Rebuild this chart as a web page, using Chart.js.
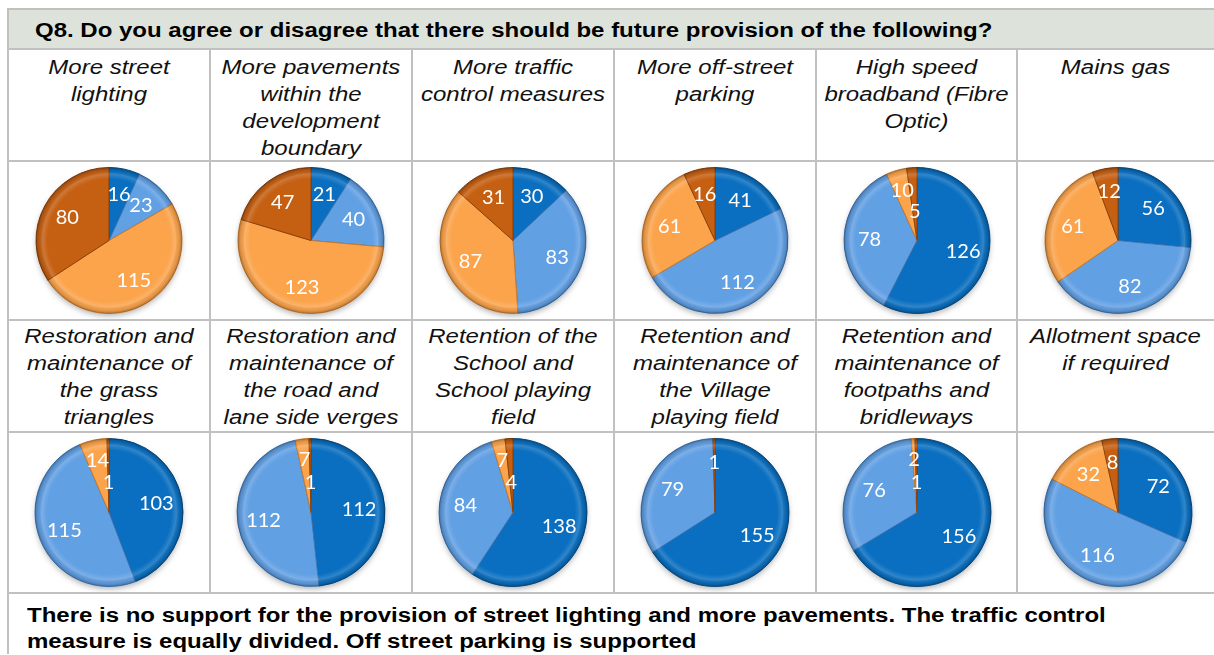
<!DOCTYPE html>
<html>
<head>
<meta charset="utf-8">
<title>Q8 future provision</title>
<script src="https://cdn.jsdelivr.net/npm/chart.js@4/dist/chart.umd.min.js"></script>
<style>
  body { margin: 0; background: #fff; font-family: Arial, "Liberation Sans", sans-serif; }
  #sheet { position: absolute; left: 0; top: 0; width: 1214px; height: 655px; overflow: hidden; }
  .line { position: absolute; background: #c0c0c0; }
  .hdr { position: absolute; left: 8px; top: 9px; width: 1206px; height: 40px; background: #dde3da; }
  .hdr span { position: absolute; left: 27px; top: 10px; font-weight: bold; font-size: 20px; color: #000;
              white-space: nowrap; transform: scaleX(1.2); transform-origin: left center; }
  .title { position: absolute; text-align: center; font-style: italic; font-size: 20px; line-height: 27px; color: #111;
           white-space: nowrap; transform: scaleX(1.2); transform-origin: center top; }
  .pie { position: absolute; }
  .note { position: absolute; left: 27px; top: 602px; font-weight: bold; font-size: 20px; line-height: 26px; color: #000;
          white-space: nowrap; transform: scaleX(1.2); transform-origin: left top; }
</style>
</head>
<body>
<div id="sheet">
  <div class="hdr"><span id="question"></span></div>
  <div class="note" id="note"></div>
</div>
<script>
// === Dados ===
const question = "Q8. Do you agree or disagree that there should be future provision of the following?";
const answers = ["Strongly agree", "Agree", "Disagree", "Strongly disagree"];
const sliceColors = ["#0a6fc0", "#62a0e4", "#fba44c", "#c55f12"];
const sliceEdges  = ["#07508c", "#3d76b5", "#c97a2a", "#8c400a"];

// uma linha de texto por elemento (quebras como na figura)
const topics = [
  ["More street", "lighting"],
  ["More pavements", "within the", "development", "boundary"],
  ["More traffic", "control measures"],
  ["More off-street", "parking"],
  ["High speed", "broadband (Fibre", "Optic)"],
  ["Mains gas"],
  ["Restoration and", "maintenance of", "the grass", "triangles"],
  ["Restoration and", "maintenance of", "the road and", "lane side verges"],
  ["Retention of the", "School and", "School playing", "field"],
  ["Retention and", "maintenance of", "the Village", "playing field"],
  ["Retention and", "maintenance of", "footpaths and", "bridleways"],
  ["Allotment space", "if required"]
];

// contagens: Strongly agree, Agree, Disagree, Strongly disagree
const stronglyAgree    = [16, 21, 30, 41, 126, 56, 103, 112, 138, 155, 156, 72];
const agree            = [23, 40, 83, 112, 78, 82, 115, 112, 84, 79, 76, 116];
const disagree         = [115, 123, 87, 61, 10, 61, 14, 7, 7, 0, 2, 32];
const stronglyDisagree = [80, 47, 31, 16, 5, 12, 1, 1, 4, 1, 1, 8];

const noteLines = [
  "There is no support for the provision of street lighting and more pavements. The traffic control",
  "measure is equally divided. Off street parking is supported"
];

// === Layout da tabela ===
const colX = [8, 210, 412, 614, 816, 1017, 1216];
const rowY = [9, 49, 161, 320, 432, 593];
const sheet = document.getElementById('sheet');

document.getElementById('question').textContent = question;
document.getElementById('note').innerHTML = noteLines.join('<br>');

function addLine(x, y, w, h) {
  const d = document.createElement('div');
  d.className = 'line';
  d.style.left = x + 'px'; d.style.top = y + 'px';
  d.style.width = w + 'px'; d.style.height = h + 'px';
  sheet.appendChild(d);
}
// linhas horizontais
rowY.forEach(y => addLine(colX[0] - 1, y - 1, 1214 - colX[0] + 1, 2));
// bordas verticais das celulas
colX.forEach((x, i) => {
  if (i === 0) addLine(x - 1, rowY[0] - 1, 2, 655 - rowY[0]);
  else addLine(x - 1, rowY[1], 2, rowY[5] - rowY[1]);
});

// === Plugins ===
// sombra + bisel simples no estilo Excel
const bevel = {
  id: 'bevel',
  beforeDatasetsDraw(chart) {
    const arc = chart.getDatasetMeta(0).data[0];
    if (!arc) return;
    const ctx = chart.ctx;
    ctx.save();
    ctx.shadowColor = 'rgba(0,0,0,0.35)';
    ctx.shadowBlur = 6;
    ctx.shadowOffsetY = 3;
    ctx.beginPath();
    ctx.arc(arc.x, arc.y, arc.outerRadius - 1, 0, Math.PI * 2);
    ctx.fillStyle = '#ffffff';
    ctx.fill();
    ctx.restore();
  },
  afterDatasetsDraw(chart) {
    const arc = chart.getDatasetMeta(0).data[0];
    if (!arc) return;
    const ctx = chart.ctx, r = arc.outerRadius;
    const g = ctx.createRadialGradient(arc.x, arc.y, 0, arc.x, arc.y, r);
    g.addColorStop(0, 'rgba(255,255,255,0)');
    g.addColorStop(0.84, 'rgba(255,255,255,0)');
    g.addColorStop(0.91, 'rgba(255,255,255,0.16)');
    g.addColorStop(0.96, 'rgba(0,0,0,0.08)');
    g.addColorStop(1, 'rgba(0,0,0,0.28)');
    ctx.save();
    ctx.beginPath();
    ctx.arc(arc.x, arc.y, r, 0, Math.PI * 2);
    ctx.fillStyle = g;
    ctx.fill();
    ctx.restore();
  }
};

// rotulos de valor dentro das fatias
const valueLabels = {
  id: 'valueLabels',
  afterDatasetsDraw(chart) {
    const ds = chart.data.datasets[0];
    const meta = chart.getDatasetMeta(0);
    const total = ds.data.reduce((a, b) => a + b, 0);
    const small = ds.data.map(v => v > 0 && v / total < 0.065);
    const nSmall = small.filter(Boolean).length;
    const ctx = chart.ctx;
    ctx.save();
    ctx.font = '20px Lato, "Open Sans", sans-serif';
    ctx.fillStyle = '#ffffff';
    ctx.textAlign = 'center';
    ctx.textBaseline = 'middle';
    let k = 0;
    meta.data.forEach((arc, i) => {
      const v = ds.data[i];
      if (!v) return;
      let f = 0.65;
      if (small[i] && nSmall >= 2) { f = k === 0 ? 0.72 : 0.4; k++; }
      else if (small[i]) f = 0.68;
      const mid = (arc.startAngle + arc.endAngle) / 2;
      const x = arc.x + Math.cos(mid) * arc.outerRadius * f;
      const y = arc.y + Math.sin(mid) * arc.outerRadius * f;
      ctx.fillText(String(v), x, y);
    });
    ctx.restore();
  }
};

// === Celulas ===
topics.forEach((lines, i) => {
  const col = i % 6;
  const block = Math.floor(i / 6);          // 0 = primeira linha de graficos
  const titleTop = rowY[1 + block * 2];
  const pieTop = rowY[2 + block * 2];
  const pieBottom = rowY[3 + block * 2];
  const left = colX[col], right = colX[col + 1];

  const t = document.createElement('div');
  t.className = 'title';
  t.style.left = left + 'px';
  t.style.width = (Math.min(right, 1214) - left) + 'px';
  t.style.top = (titleTop + (block === 0 ? 5 : 3)) + 'px';
  t.innerHTML = lines.join('<br>');
  sheet.appendChild(t);

  const wrap = document.createElement('div');
  wrap.className = 'pie';
  wrap.style.left = (left + 1) + 'px';
  wrap.style.top = (pieTop + 1) + 'px';
  const w = 200, h = pieBottom - pieTop - 2;
  const cv = document.createElement('canvas');
  cv.width = w; cv.height = h;
  wrap.appendChild(cv);
  sheet.appendChild(wrap);

  new Chart(cv, {
    type: 'pie',
    data: {
      labels: answers,
      datasets: [{
        data: [stronglyAgree[i], agree[i], disagree[i], stronglyDisagree[i]],
        backgroundColor: sliceColors,
        borderColor: sliceEdges,
        borderWidth: 1
      }]
    },
    options: {
      responsive: false,
      animation: false,
      layout: { padding: { top: 5, bottom: 5, left: 0, right: 0 } },
      plugins: { legend: { display: false }, tooltip: { enabled: false } }
    },
    plugins: [bevel, valueLabels]
  });
});
</script>
</body>
</html>
